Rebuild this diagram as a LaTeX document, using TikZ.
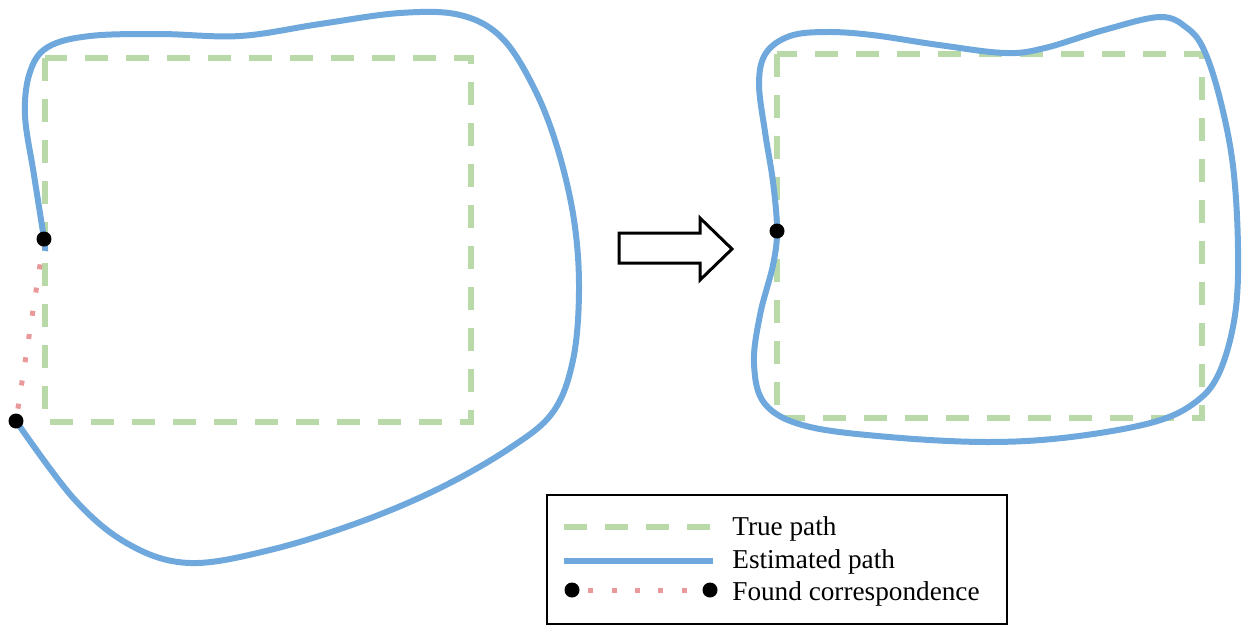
\documentclass[tikz,border=0pt]{standalone}
\usepackage{fontspec}
\setmainfont{Liberation Serif}

\definecolor{truegreen}{RGB}{185,218,168}
\definecolor{estblue}{RGB}{111,168,220}
\definecolor{corrred}{RGB}{233,153,153}

\tikzset{
  truepath/.style={truegreen, line width=0.11cm, dash pattern=on 0.46cm off 0.36cm},
  estpath/.style={estblue, line width=0.12cm},
  corrline/.style={corrred, line width=0.1cm, dash pattern=on 0.1cm off 0.37cm},
  corrdot/.style={circle, fill=black, inner sep=0pt, minimum size=0.3cm},
  legtext/.style={anchor=base west, font=\fontsize{15.5}{18}\selectfont, inner sep=0pt}
}

\begin{document}
\begin{tikzpicture}[x=0.02cm, y=-0.02cm]
    \useasboundingbox (0,0) rectangle (1247,626);

    % before: true path, estimate and the correspondence found
    \draw[truepath] (45,58) rectangle (471,422);
    \draw[estpath] plot[smooth, tension=0.6] coordinates {
        (45,251) (44,239) (34,175) (25,115) (30,72) (48,47) (90,36)
        (160,34) (240,36) (320,24) (400,13) (460,15) (502,38) (535,90)
        (558,150) (574,220) (579,290) (573,360) (553,412) (510,448)
        (440,488) (360,522) (270,550) (190,563) (130,545) (75,500) (16,421)};
    \coordinate (p1) at (44,239);
    \coordinate (p2) at (16,421);
    \draw[corrline, dash phase=-0.25cm] (p2) -- (p1);
    \node[corrdot] (p1dot) at (p1) {};
    \node[corrdot] (p2dot) at (p2) {};

    % hollow arrow
    \draw[line width=0.06cm, line join=miter]
        (619,233) -- (700,233) -- (700,218) -- (732,249) -- (700,280)
        -- (700,263) -- (619,263) -- cycle;

    % after: estimate closed on itself
    \draw[truepath] (777,54) rectangle (1202,418);
    \draw[estpath] plot[smooth cycle, tension=0.6] coordinates {
        (777,230) (773,182) (765,132) (759,83) (766,53) (790,36) (826,32)
        (872,35) (939,45) (1005,53) (1045,48) (1104,30) (1160,17) (1187,28)
        (1204,50) (1220,99) (1233,166) (1238,248) (1235,315) (1220,371)
        (1197,401) (1154,422) (1071,437) (988,442) (889,437) (806,426)
        (765,404) (754,364) (760,315) (773,265)};
    \node[corrdot] (q1) at (777,231) {};

    % legend
    \draw[line width=0.05cm] (547,495) rectangle (1007,624);
    \coordinate (l1a) at (564,527);
    \coordinate (l1b) at (712,527);
    \draw[truepath] (l1a) -- (l1b);
    \node[legtext] (t1) at (732,535) {True path};
    \coordinate (l2a) at (564,561);
    \coordinate (l2b) at (713,561);
    \draw[estpath] (l2a) -- (l2b);
    \node[legtext] (t2) at (732,568) {Estimated path};
    \coordinate (d1) at (572,590);
    \coordinate (d2) at (710,590);
    \draw[corrline, dash phase=-0.32cm] (d1) -- (d2);
    \node[corrdot] (d1dot) at (d1) {};
    \node[corrdot] (d2dot) at (d2) {};
    \node[legtext] (t3) at (732,600) {Found correspondence};
\end{tikzpicture}
\end{document}
